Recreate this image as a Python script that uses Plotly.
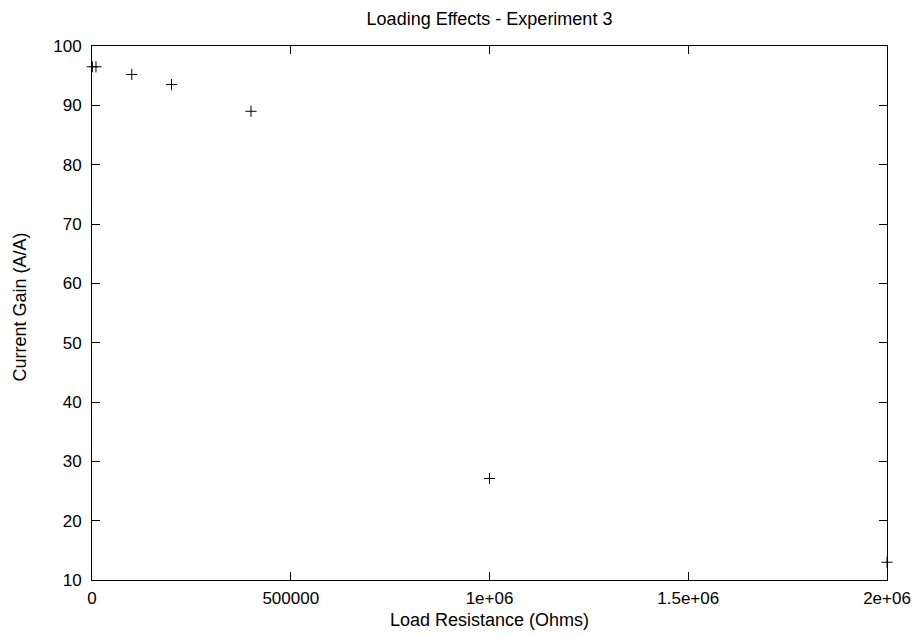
import plotly.graph_objects as go

load_resistance = [1000, 10000, 100000, 200000, 400000, 1000000, 2000000]
current_gain = [96.5, 96.5, 95.2, 93.5, 89.0, 27.1, 13.0]

x_tickvals = [0, 500000, 1000000, 1500000, 2000000]
x_ticktext = ["0", "500000", "1e+06", "1.5e+06", "2e+06"]
y_tickvals = [10, 20, 30, 40, 50, 60, 70, 80, 90, 100]

FONT = "Liberation Sans, Arial, Helvetica, sans-serif"

fig = go.Figure()
fig.add_trace(go.Scatter(
    x=load_resistance, y=current_gain, mode="markers",
    marker=dict(symbol="cross-thin", size=8, line=dict(color="black", width=1), color="black"),
    showlegend=False, cliponaxis=False,
))

axis_common = dict(
    showgrid=False, zeroline=False, showline=True, linecolor="black", linewidth=1,
    mirror="ticks", ticks="inside", ticklen=8, tickcolor="black", tickwidth=1,
    tickfont=dict(family=FONT, size=17, color="black"),
    ticklabeloverflow="allow", automargin=False,
)

fig.update_layout(
    width=916, height=635, autosize=False,
    paper_bgcolor="white", plot_bgcolor="white",
    margin=dict(l=92, r=29, t=46, b=55),
    title=dict(text="Loading Effects - Experiment 3", xref="paper", x=0.5, xanchor="center",
               yref="container", y=0.970, yanchor="middle",
               font=dict(family=FONT, size=18, color="black")),
    xaxis=dict(range=[0, 2000000], tickvals=x_tickvals, ticktext=x_ticktext,
               ticklabelstandoff=3, **axis_common),
    yaxis=dict(range=[10, 100], tickvals=y_tickvals, ticklabelstandoff=6, **axis_common),
    annotations=[
        dict(text="Load Resistance (Ohms)", xref="paper", yref="paper", x=0.5, y=0,
             xanchor="center", yanchor="middle", yshift=-40, showarrow=False,
             font=dict(family=FONT, size=18, color="black")),
        dict(text="Current Gain (A/A)", xref="paper", yref="paper", x=0, y=0.5,
             xanchor="center", yanchor="middle", xshift=-72.5, yshift=6, textangle=-90,
             showarrow=False, font=dict(family=FONT, size=18, color="black")),
    ],
)

fig.write_html(
    "out.html",
    config={"displayModeBar": False, "responsive": False},
    post_script=(
        "document.body.style.margin='0';document.body.style.overflow='hidden';"
        "var d=document.getElementById('{plot_id}');"
        "d.style.position='absolute';d.style.left='0px';d.style.top='0px';"
    ),
)
